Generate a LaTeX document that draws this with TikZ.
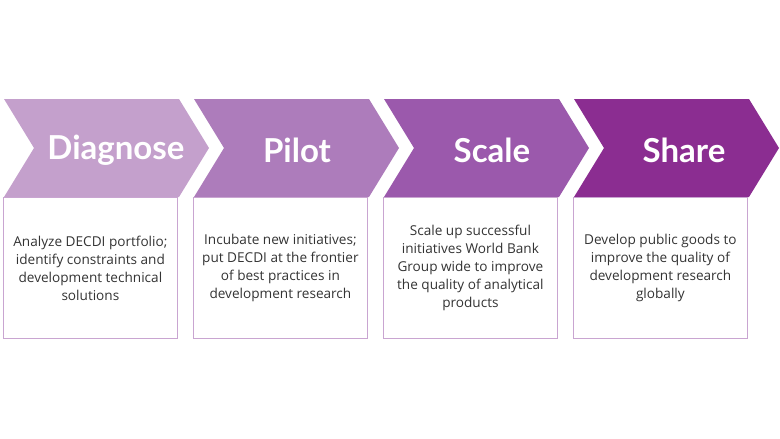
\documentclass[tikz,border=0pt]{standalone}
\usepackage{fontspec}
\setmainfont{Open Sans}
\newfontfamily\titlefont{Lato}
\definecolor{chevA}{HTML}{C4A0CC}
\definecolor{chevB}{HTML}{AD7CBB}
\definecolor{chevC}{HTML}{9B59AC}
\definecolor{chevD}{HTML}{8B2D91}
\definecolor{boxline}{HTML}{C9A5D1}
\definecolor{textgrey}{HTML}{333333}
\begin{document}
\begin{tikzpicture}[
x=1pt, y=-1pt,
steptitle/.style={font=\titlefont\bfseries\fontsize{33}{36}\selectfont, text=white},
descbox/.style={draw=boxline, line width=0.8pt, anchor=north west,
    minimum width=174pt, minimum height=141pt, align=center,
    font=\fontsize{13.6}{18}\selectfont, text=textgrey}
]
\useasboundingbox (0,0) rectangle (780,439);

% chevrons
\foreach \idx/\fillcol in {0/chevA, 1/chevB, 2/chevC, 3/chevD} {
    \fill[\fillcol] (4+190*\idx,99) -- ++(175,0) -- ++(30,49) -- ++(-30,49)
        -- ++(-175,0) -- ++(30,-49) -- cycle;
}

\node[steptitle] (diagnose) at (116,150) {Diagnose};
\node[steptitle] (pilot) at (297,150) {Pilot};
\node[steptitle] (scale) at (492,150) {Scale};
\node[steptitle] (share) at (684,150) {Share};

\node[descbox] (diagnosebox) at (3,197) {Analyze DECDI portfolio;\\identify constraints and\\development technical\\solutions};
\node[descbox] (pilotbox) at (193,197) {Incubate new initiatives;\\put DECDI at the frontier\\of best practices in\\development research};
\node[descbox] (scalebox) at (383,197) {Scale up successful\\initiatives World Bank\\Group wide to improve\\the quality of analytical\\products};
\node[descbox] (sharebox) at (573,197) {Develop public goods to\\improve the quality of\\development research\\globally};

\end{tikzpicture}
\end{document}
